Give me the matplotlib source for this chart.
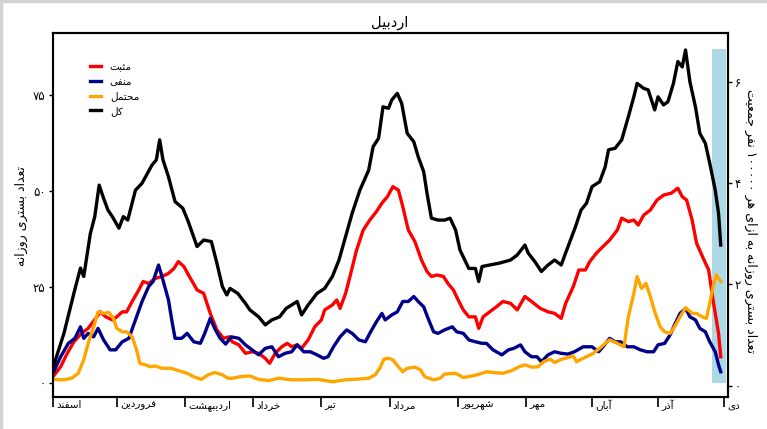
import matplotlib
matplotlib.use('Agg')
import matplotlib.pyplot as plt
from matplotlib.patches import Rectangle
from matplotlib.lines import Line2D

# ---- data (days counted from 1 Esfand) ----
month_names = ['اسفند', 'فروردین', 'اردیبهشت', 'خرداد', 'تیر', 'مرداد',
               'شهریور', 'مهر', 'آبان', 'آذر', 'دی']
month_start = [0, 29, 60, 91, 122, 153, 184, 215, 245, 275, 305]

total_days = [0, 5, 9.5, 12.5, 14, 17, 19, 21, 23, 25,
              27, 30, 32, 34, 37.5, 40.5, 42.5, 45, 47, 48.5,
              50, 52.5, 55.5, 59, 61.5, 65.5, 68.5, 72, 74.5, 77,
              79, 80.5, 84, 87.5, 89.5, 93.5, 96.5, 99.5, 103, 106,
              111, 113, 116, 120, 123.5, 127, 130, 133, 136, 139.5,
              143.5, 145.5, 148, 150, 152.5, 154, 156.5, 158.5, 161, 164,
              166, 168.5, 170, 172, 175, 178, 180.5, 183, 185, 187.5,
              189, 192, 193.5, 195, 198.5, 203, 208, 211, 214.5, 216,
              219, 222, 225, 228, 231, 233.5, 237.5, 240, 242.5, 245,
              248.5, 251, 252.5, 255.5, 258.5, 261.5, 264, 265.5, 268.5, 270.5,
              273.5, 275, 277.5, 279.5, 282, 284, 286, 287.5, 289.5, 292,
              294, 296.5, 298.5, 301, 302.5, 303.5]
total_vals = [4.0, 13.0, 23.4, 30.0, 27.8, 39.0, 43.4, 51.6, 48.2, 45.1,
              43.4, 40.4, 43.4, 42.5, 50.3, 52.1, 54.2, 56.8, 58.2, 63.4,
              58.2, 53.8, 47.3, 45.6, 42.1, 35.6, 37.3, 36.9, 31.3, 25.2,
              23.0, 24.7, 23.4, 20.8, 19.1, 17.3, 15.2, 16.5, 17.3, 19.5,
              21.3, 17.8, 20.4, 23.4, 24.7, 27.8, 32.1, 38.2, 44.3, 50.3,
              55.5, 61.6, 63.8, 72.0, 71.6, 73.8, 75.5, 72.9, 65.1, 62.9,
              59.0, 55.1, 49.5, 43.0, 42.5, 42.5, 43.0, 39.9, 34.7, 31.7,
              29.9, 29.9, 26.5, 30.4, 30.8, 31.3, 32.1, 33.4, 36.0, 33.9,
              31.7, 29.1, 30.8, 32.1, 30.8, 34.7, 40.8, 45.1, 46.9, 51.2,
              52.5, 56.4, 60.8, 61.2, 63.4, 69.4, 74.6, 78.1, 76.8, 76.4,
              71.2, 74.6, 72.5, 73.3, 78.1, 83.8, 82.4, 86.8, 78.5, 72.0,
              65.1, 62.5, 57.3, 50.3, 44.3, 36.0]

pos_days = [0, 3.5, 6.5, 9.5, 13, 16, 20, 21.5, 24, 27,
            29, 31.5, 33.5, 36, 39, 41, 43.5, 46.5, 49.5, 52.5,
            55, 57, 59.5, 62.5, 65.5, 68.5, 71.5, 74.5, 77.5, 80,
            81.5, 84.5, 87.5, 90.5, 93.5, 96.5, 98.5, 101, 104, 106.5,
            108.5, 111, 113, 116, 119, 122, 123.5, 127, 129, 130.5,
            133, 135, 138, 141, 144, 147, 149.5, 152, 154.5, 157,
            159, 161.5, 164.5, 167.5, 170, 172, 174.5, 177.5, 179.5, 182,
            184.5, 186.5, 189, 192, 193.5, 195.5, 198.5, 201.5, 204.5, 208,
            211, 214.5, 217.5, 221.5, 225, 228, 231, 233, 236.5, 239,
            242, 244, 247, 250, 253, 256.5, 258.5, 261.5, 264, 266,
            268.5, 271.5, 274.5, 277.5, 281, 284, 286, 288, 290.5, 292.5,
            295.5, 298, 300, 302.5, 303.5]
pos_vals = [1.7, 4.3, 7.8, 10.8, 13.0, 14.3, 17.3, 18.6, 17.3, 16.5,
            17.3, 18.6, 18.6, 21.3, 24.3, 26.5, 26.0, 27.3, 27.8, 28.6,
            29.9, 31.7, 30.4, 27.3, 24.3, 23.4, 18.2, 13.9, 11.7, 12.1,
            10.8, 10.0, 7.8, 8.2, 7.8, 6.5, 5.2, 7.8, 9.5, 10.4,
            9.5, 10.0, 9.1, 11.3, 14.7, 16.5, 19.1, 20.4, 21.7, 19.5,
            23.4, 27.8, 34.7, 39.9, 42.5, 44.7, 46.9, 48.6, 51.2, 50.3,
            46.0, 39.9, 36.9, 32.1, 29.1, 27.8, 28.2, 27.8, 26.0, 24.3,
            21.3, 19.1, 17.3, 17.3, 14.3, 17.3, 18.6, 19.9, 21.3, 20.8,
            19.1, 22.6, 21.3, 19.5, 18.6, 18.2, 16.9, 20.8, 25.2, 29.5,
            29.5, 31.7, 33.9, 35.6, 37.3, 39.9, 43.0, 42.1, 42.5, 41.2,
            43.8, 45.1, 47.7, 49.0, 49.5, 50.8, 48.6, 47.7, 42.5, 36.5,
            32.6, 29.5, 21.7, 13.0, 6.9]

neg_days = [0, 3.5, 7, 10, 12.5, 14, 16, 18.5, 20.5, 23,
            26, 28.5, 31.5, 34.5, 37.5, 40.5, 43.5, 45.5, 48, 50,
            52.5, 54, 55.5, 58.5, 61, 64, 67, 69, 71.5, 73.5,
            76, 78.5, 81, 84.5, 87.5, 90.5, 93.5, 96.5, 99.5, 102.5,
            105.5, 108.5, 111, 114, 117, 120, 123, 125, 127.5, 130.5,
            133.5, 136, 139, 142, 144, 147, 149.5, 151, 154, 156.5,
            159, 161.5, 164, 166, 168.5, 170.5, 173, 175, 178, 181.5,
            183.5, 186.5, 189, 192, 195, 197, 200, 204, 207, 209.5,
            212.5, 214.5, 217.5, 220, 222, 225, 228, 231, 234, 237,
            241, 245, 248, 250, 253, 255.5, 258, 261, 264, 267,
            270, 273, 275, 278, 280.5, 282.5, 285, 287.5, 289.5, 292,
            294, 296.5, 298.5, 301, 302.5, 303.5]
neg_vals = [2.6, 6.9, 10.4, 11.7, 14.7, 11.7, 13.0, 12.1, 14.3, 11.3,
            8.7, 8.7, 10.8, 11.7, 16.5, 21.3, 25.2, 26.5, 30.8, 26.9,
            21.7, 16.5, 11.7, 11.7, 13.0, 10.8, 10.4, 13.0, 16.9, 14.3,
            11.7, 10.2, 12.1, 11.7, 10.0, 8.7, 7.4, 9.1, 9.5, 6.9,
            7.8, 8.2, 10.0, 8.2, 8.2, 7.4, 6.5, 6.9, 9.5, 12.1,
            13.9, 13.0, 11.3, 10.8, 13.0, 16.0, 18.2, 16.5, 17.8, 18.6,
            21.3, 21.3, 22.6, 21.3, 19.9, 16.9, 13.4, 13.0, 13.9, 14.7,
            13.4, 13.0, 11.3, 10.8, 10.4, 10.4, 8.7, 7.4, 8.7, 9.1,
            10.0, 8.2, 6.9, 6.9, 5.6, 7.4, 8.2, 7.8, 7.6, 8.2,
            9.5, 9.5, 8.2, 9.5, 11.7, 10.8, 10.8, 9.5, 9.5, 8.7,
            8.2, 8.2, 10.0, 10.4, 12.6, 15.2, 18.2, 19.5, 17.3, 16.5,
            14.3, 13.4, 10.8, 8.2, 4.8, 3.0]

prob_days = [0, 5, 8.5, 11.5, 14, 16, 18.5, 20.5, 23, 25.5,
             27.5, 29, 31.5, 33.5, 36, 38, 39.5, 42, 44, 46.5,
             49.5, 53.5, 57, 61, 64, 67.5, 70.5, 73.5, 77, 79.5,
             81.5, 85, 89.5, 93.5, 98, 102.5, 108.5, 114.5, 120.5, 127,
             133, 139, 143.5, 146.5, 148.5, 150.5, 152.5, 154.5, 157, 159,
             161, 164.5, 167, 169, 173, 176, 178, 183, 186.5, 190.5,
             194, 197, 200, 204.5, 208.5, 211.5, 214.5, 217.5, 220.5, 223,
             226, 228, 231, 234, 236.5, 238, 239.5, 242.5, 245.5, 248.5,
             251, 253, 256.5, 259.5, 261.5, 264, 265.5, 267.5, 269.5, 271.5,
             273.5, 276, 278, 280.5, 282.5, 285, 287.5, 290.5, 292.5, 295,
             297, 298.5, 300, 301.5, 303.5]
prob_vals = [1.0, 0.9, 1.3, 2.6, 6.1, 10.4, 14.7, 18.6, 18.2, 18.4,
             16.9, 14.3, 13.4, 13.4, 12.1, 8.7, 5.2, 4.8, 4.3, 4.5,
             3.9, 3.9, 3.3, 2.6, 1.7, 1.0, 2.2, 2.8, 2.2, 1.3,
             1.3, 1.7, 1.9, 1.0, 0.7, 1.3, 0.9, 0.9, 1.0, 0.4,
             0.9, 1.1, 1.3, 2.2, 3.9, 6.3, 6.5, 6.1, 4.3, 3.0,
             3.9, 4.2, 3.5, 1.7, 0.9, 1.3, 2.4, 2.6, 1.5, 1.9,
             2.4, 3.0, 2.8, 2.6, 3.3, 4.2, 4.8, 4.2, 4.3, 5.6,
             6.3, 5.4, 6.2, 6.7, 7.1, 5.6, 6.1, 6.9, 7.8, 9.1,
             10.4, 11.3, 10.4, 9.5, 17.3, 23.4, 27.8, 24.7, 26.0, 22.6,
             18.6, 14.7, 13.4, 13.0, 14.7, 17.3, 19.7, 18.2, 18.2, 17.3,
             16.9, 20.8, 25.2, 28.2, 26.5]

shade_days = (299.5, 306)   # incomplete-data window
shade_top = 87

left_ticks = [0, 25, 50, 75]
right_ticks = [0, 2, 4, 6]

# ---- minimal Persian shaping (matplotlib does not join Arabic letters) ----
FORMS = {
    'ا': ('\uFE8D', '\uFE8E', None, None),
    'آ': ('\uFE81', '\uFE82', None, None),
    'ب': ('\uFE8F', '\uFE90', '\uFE91', '\uFE92'),
    'ت': ('\uFE95', '\uFE96', '\uFE97', '\uFE98'),
    'ث': ('\uFE99', '\uFE9A', '\uFE9B', '\uFE9C'),
    'ج': ('\uFE9D', '\uFE9E', '\uFE9F', '\uFEA0'),
    'ح': ('\uFEA1', '\uFEA2', '\uFEA3', '\uFEA4'),
    'خ': ('\uFEA5', '\uFEA6', '\uFEA7', '\uFEA8'),
    'د': ('\uFEA9', '\uFEAA', None, None),
    'ذ': ('\uFEAB', '\uFEAC', None, None),
    'ر': ('\uFEAD', '\uFEAE', None, None),
    'ز': ('\uFEAF', '\uFEB0', None, None),
    'س': ('\uFEB1', '\uFEB2', '\uFEB3', '\uFEB4'),
    'ش': ('\uFEB5', '\uFEB6', '\uFEB7', '\uFEB8'),
    'ع': ('\uFEC9', '\uFECA', '\uFECB', '\uFECC'),
    'ف': ('\uFED1', '\uFED2', '\uFED3', '\uFED4'),
    '\u06A9': ('\uFED9', '\uFEDA', '\uFEDB', '\uFEDC'),
    'ل': ('\uFEDD', '\uFEDE', '\uFEDF', '\uFEE0'),
    'م': ('\uFEE1', '\uFEE2', '\uFEE3', '\uFEE4'),
    'ن': ('\uFEE5', '\uFEE6', '\uFEE7', '\uFEE8'),
    'ه': ('\uFEE9', '\uFEEA', '\uFEEB', '\uFEEC'),
    'و': ('\uFEED', '\uFEEE', None, None),
    '\u06CC': ('\uFEEF', '\uFEF0', '\uFEF3', '\uFEF4'),
}


def fa_digits(n):
    return ''.join(chr(0x06F0 + int(c)) for c in str(n))


def shape_word(word):
    word = word.replace('\u064A', '\u06CC').replace('\u0643', '\u06A9')
    out = []
    for i, ch in enumerate(word):
        if ch not in FORMS:
            out.append(ch)
            continue
        iso, fin, ini, med = FORMS[ch]
        prev = word[i - 1] if i > 0 else None
        nxt = word[i + 1] if i < len(word) - 1 else None
        jp = prev in FORMS and FORMS[prev][2] is not None
        jn = ini is not None and nxt in FORMS
        if jp and jn:
            out.append(med)
        elif jp:
            out.append(fin)
        elif jn:
            out.append(ini)
        else:
            out.append(iso)
    return ''.join(out)


def fa(text):
    vis = []
    for tok in text.split(' '):
        if tok and all(0x06F0 <= ord(c) <= 0x06F9 for c in tok):
            vis.append(tok)
        else:
            vis.append(shape_word(tok)[::-1])
    return ' '.join(vis[::-1])


# ---- figure ----
W, H = 767, 429
fig = plt.figure(figsize=(W / 100, H / 100), dpi=100)
ax = fig.add_axes([52.5 / W, 1 - 396.7 / H, (728 - 52.5) / W, (396.7 - 32.7) / H])

ax.add_patch(Rectangle((shade_days[0], 0), shade_days[1] - shade_days[0], shade_top,
                       facecolor='#ADD8E6', edgecolor='none', zorder=1))

lw = 2.4
ax.plot(pos_days, pos_vals, color='#FF0000', lw=lw, label=fa('مثبت'), zorder=3)
ax.plot(neg_days, neg_vals, color='#00008B', lw=lw, label=fa('منفی'), zorder=3)
ax.plot(prob_days, prob_vals, color='#FFA500', lw=lw, label=fa('محتمل'), zorder=3)
ax.plot(total_days, total_vals, color='black', lw=lw, label=fa('کل'), zorder=3)

ax.set_xlim(-0.2, 306.8)
ax.set_ylim(-3.5, 91.3)
ax.set_yticks(left_ticks)
ax.set_yticklabels([fa_digits(v) for v in left_ticks], fontsize=8.5)
ax.set_xticks(month_start)
ax.set_xticklabels([''] * len(month_start))
ax.tick_params(axis='x', direction='out', length=7, width=1.2)
ax.tick_params(axis='y', direction='out', length=3, width=1, pad=2)
for s in ax.spines.values():
    s.set_linewidth(1.5)

for d, name in zip(month_start, month_names):
    ax.text(d + 1.5, -0.024, fa(name), transform=ax.get_xaxis_transform(),
            ha='left', va='center', fontsize=7.5)

ax2 = ax.twinx()
ax2.set_ylim(-0.221, 6.966)
ax2.set_yticks(right_ticks)
ax2.set_yticklabels([fa_digits(v) for v in right_ticks], fontsize=8.5)
ax2.tick_params(axis='y', direction='out', length=3, width=1, pad=2)
for s in ax2.spines.values():
    s.set_linewidth(1.5)

ax.legend(loc='upper left', bbox_to_anchor=(90 / W, 1 - 62 / H),
          bbox_transform=fig.transFigure, frameon=False, fontsize=7.5,
          handlelength=1.1, handletextpad=0.8, labelspacing=0.45,
          borderpad=0, borderaxespad=0)

fig.text(390 / W, 1 - 23 / H, fa('اردبیل'), ha='center', va='center', fontsize=10.5)
fig.text(21 / W, 1 - 216 / H, fa('تعداد بستری روزانه'), rotation=90,
         ha='center', va='center', fontsize=9)
fig.text(751 / W, 1 - 221 / H,
         fa('تعداد بستری روزانه به ازای هر ' + fa_digits(100000) + ' نفر جمعیت'),
         rotation=-90, ha='center', va='center', fontsize=9)

# light grey frame on the top and left edges
fig.add_artist(Line2D([0.001, 0.001], [0, 1], color='#d3d3d3', lw=2.5, transform=fig.transFigure))
fig.add_artist(Line2D([0, 1], [0.998, 0.998], color='#d3d3d3', lw=2.5, transform=fig.transFigure))

fig.savefig('out.png', dpi=100)
